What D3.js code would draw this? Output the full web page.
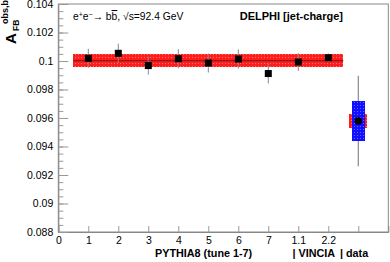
<html>
<head>
  <script src="https://d3js.org/d3.v7.min.js"></script>
  <style>
    body { margin: 0; background: #fff; }
    text { font-family: "Liberation Sans", Arial, sans-serif; }
  </style>
</head>
<body>
  <div id="chart"></div>
  <script>

    // MC predictions (x position, value, error)
    var mcPos = [1, 2, 3, 4, 5, 6, 7, 8, 9];
    var mcVal = [0.10019, 0.10054, 0.09968, 0.10016, 0.09986, 0.10014, 0.09912, 0.09993, 0.10023];
    var mcErr = [0.00067, 0.00068, 0.00063, 0.00067, 0.00067, 0.00067, 0.0007, 0.00062, 0.0003];

    // average band over the MC points
    var bandRange = [0.5, 9.5];
    var bandVal = 0.10002;
    var bandErr = 0.00044;

    // measured value
    var dataPos = 10;
    var dataVal = 0.09579;
    var dataTot = 0.00318;
    var dataSys = 0.00138;
    var dataStat = 0.00051;

    var xTickVals = [0, 1, 2, 3, 4, 5, 6, 7, 8, 9, 10];
    var xTickLabels = ["0", "1", "2", "3", "4", "5", "6", "7", "1.1", "2.2", ""];
    var yTickVals = [0.088, 0.09, 0.092, 0.094, 0.096, 0.098, 0.1, 0.102, 0.104];
    var yTickLabels = ["0.088", "0.09", "0.092", "0.094", "0.096", "0.098", "0.1", "0.102", "0.104"];

    var W = 390, H = 262;
    var m = {left: 58.3, right: 388.3, top: 4, bottom: 232};

    var x = d3.scaleLinear().domain([0, 11]).range([m.left, m.right]);
    var y = d3.scaleLinear().domain([0.088, 0.104]).range([m.bottom, m.top]);

    var svg = d3.select("#chart").append("svg")
      .attr("width", W).attr("height", H);

    // light dot texture laid over solid fills
    var defs = svg.append("defs");
    var dots = defs.append("pattern").attr("id", "dots")
      .attr("width", 3).attr("height", 3).attr("patternUnits", "userSpaceOnUse");
    dots.append("rect").attr("width", 1).attr("height", 1).attr("fill", "#fff").attr("opacity", 0.35);

    svg.append("rect").attr("width", W).attr("height", H).attr("fill", "#fff");

    function box(x0, x1, v0, v1, col) {
      [col, "url(#dots)"].forEach(f => svg.append("rect")
        .attr("x", x0).attr("width", x1 - x0)
        .attr("y", y(v1)).attr("height", y(v0) - y(v1))
        .attr("fill", f).attr("shape-rendering", "crispEdges"));
    }

    // band
    box(x(bandRange[0]), x(bandRange[1]), bandVal - bandErr, bandVal + bandErr, "#ff1e1e");
    svg.append("line")
      .attr("x1", x(bandRange[0])).attr("x2", x(bandRange[1]))
      .attr("y1", y(bandVal)).attr("y2", y(bandVal))
      .attr("stroke", "#7a1010").attr("stroke-width", 1);

    // MC points
    var mc = mcPos.map((p, i) => ({x: p, v: mcVal[i], e: mcErr[i]}));
    svg.selectAll(".err").data(mc).join("line")
      .attr("x1", d => x(d.x)).attr("x2", d => x(d.x))
      .attr("y1", d => y(d.v + d.e)).attr("y2", d => y(d.v - d.e))
      .attr("stroke", "#888").attr("stroke-width", 1);
    svg.selectAll(".sq").data(mc).join("rect")
      .attr("x", d => x(d.x) - 3.5).attr("y", d => y(d.v) - 3.5)
      .attr("width", 7).attr("height", 7).attr("fill", "#000");

    // data point
    svg.append("line")
      .attr("x1", x(dataPos)).attr("x2", x(dataPos))
      .attr("y1", y(dataVal + dataTot)).attr("y2", y(dataVal - dataTot))
      .attr("stroke", "#888").attr("stroke-width", 1.2);
    box(x(dataPos) - 9, x(dataPos) + 9, dataVal - dataStat, dataVal + dataStat, "#ff1e1e");
    box(x(dataPos) - 6.5, x(dataPos) + 6.5, dataVal - dataSys, dataVal + dataSys, "#1010ff");
    svg.append("circle")
      .attr("cx", x(dataPos)).attr("cy", y(dataVal)).attr("r", 3.8).attr("fill", "#000");

    // frame
    svg.append("rect")
      .attr("x", m.left).attr("y", m.top).attr("width", m.right - m.left).attr("height", m.bottom - m.top)
      .attr("fill", "none").attr("stroke", "#888").attr("stroke-width", 1);

    // axes
    var xAxis = svg.append("g").attr("transform", `translate(0,${m.bottom})`)
      .call(d3.axisBottom(x).tickValues(xTickVals).tickSize(-6).tickPadding(5)
        .tickFormat((d, i) => xTickLabels[i]));
    var minor = d3.range(0.088, 0.1041, 0.0005);
    svg.append("g").attr("transform", `translate(${m.left},0)`)
      .call(d3.axisLeft(y).tickValues(minor).tickSize(-5).tickFormat(""))
      .call(g => g.select(".domain").remove());
    var yAxis = svg.append("g").attr("transform", `translate(${m.left},0)`)
      .call(d3.axisLeft(y).tickValues(yTickVals).tickSize(-10).tickPadding(5)
        .tickFormat((d, i) => yTickLabels[i]));
    svg.selectAll(".domain").attr("stroke", "#888");
    svg.selectAll(".tick line").attr("stroke", "#999");
    svg.selectAll(".tick text").attr("font-size", 10.5).attr("fill", "#000")
      .attr("font-family", "Liberation Sans, Arial, sans-serif");
    xAxis.selectAll(".tick text").attr("dy", "0.62em");

    // labels
    svg.append("text").attr("x", 73).attr("y", 20).attr("font-size", 10.3)
      .html('e<tspan dy="-3.5" font-size="7">+</tspan><tspan dy="3.5">e</tspan><tspan dy="-3.5" font-size="7">\u2212</tspan><tspan dy="3.5">\u2192 b</tspan><tspan text-decoration="overline">b</tspan>, \u221As=92.4 GeV');
    svg.append("text").attr("x", 343).attr("y", 20).attr("text-anchor", "end")
      .attr("font-size", 11).attr("font-weight", "bold").text("DELPHI [jet-charge]");

    // y title: A_FB^obs,b
    svg.append("text").attr("transform", "translate(16,44) rotate(-90)")
      .attr("font-weight", "bold").attr("font-size", 15).text("A");
    svg.append("text").attr("transform", "translate(19,31) rotate(-90)")
      .attr("font-weight", "bold").attr("font-size", 8.5).text("FB");
    svg.append("text").attr("transform", "translate(8,24) rotate(-90)")
      .attr("font-weight", "bold").attr("font-size", 9).text("obs,b");

    svg.append("text").attr("x", 155).attr("y", 256.5).attr("font-size", 10.8).attr("font-weight", "bold")
      .text("PYTHIA8 (tune 1-7)");
    svg.append("text").attr("x", 292.5).attr("y", 256.5).attr("font-size", 10.8).attr("font-weight", "bold")
      .text("| VINCIA");
    svg.append("text").attr("x", 340).attr("y", 256.5).attr("font-size", 10.8).attr("font-weight", "bold")
      .text("| data");

  </script>
</body>
</html>
